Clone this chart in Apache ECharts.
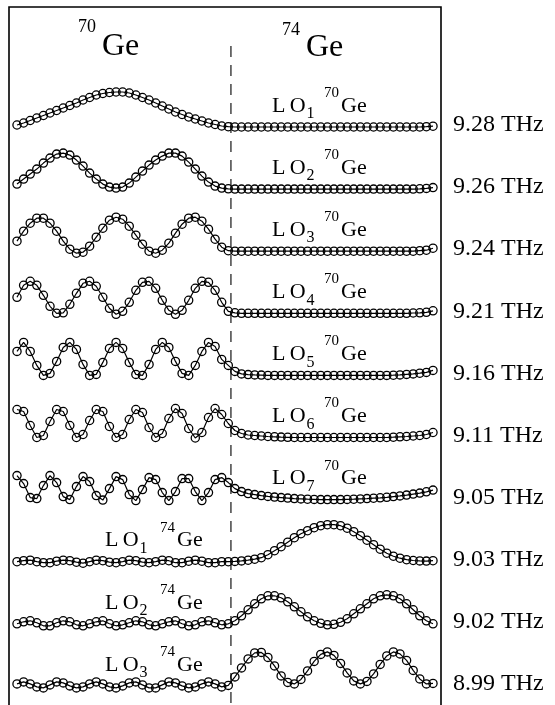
<!DOCTYPE html>
<html><head><meta charset="utf-8">
<script src="https://cdn.jsdelivr.net/npm/echarts@6/dist/echarts.min.js"></script>
<style>html,body{margin:0;padding:0;background:#fff}#c{width:555px;height:705px}</style>
</head><body><div id="c"></div>
<script>
// Atomic displacement (px-like units, up = positive) for 64 atomic planes: 32 of 70Ge then 32 of 74Ge
const lo1_70Ge = [2,4,6.5,9,11.5,14,16.5,19,21.5,24,27,29.5,32,33.5,34.5,35,35,34,32,29.5,27,24,21,18,15,12.5,10,8,6,4,2.5,1,
  0.3,0,0,0,0,0,0,0,0,0,0,0,0,0,0,0,0,0,0,0,0,0,0,0,0,0,0,0,0,0,0.3,0.8];
const lo2_70Ge = [5,10,15,20,26,31,35,36,34,29,23,16,10,5,2,1,2,6,12,18,24,29,33,36,36,33,27,20,13,7,3,1,
  0.3,0,0,0,0,0,0,0,0,0,0,0,0,0,0,0,0,0,0,0,0,0,0,0,0,0,0,0,0,0.3,0.7,1.5];
const lo3_70Ge = [10,20,28,33,33,28,20,10,2,-2,-1,5,14,23,31,34,32,25,16,7,0,-2,1,8,18,27,33,34,30,22,12,4,
  0.5,0,0,0,0,0,0,0,0,0,0,0,0,0,0,0,0,0,0,0,0,0,0,0,0,0,0,0,0,0.5,1,3];
const lo4_70Ge = [16,28,32,28,18,7,0,0.5,9,20,30,32,27,16,5,-1,2,11,23,31,32,25,13,3,-1,3,13,25,32,31,23,11,
  2,0.5,0,0,0,0,0,0,0,0,0,0,0,0,0,0,0,0,0,0,0,0,0,0,0,0,0,0,0.3,0.5,1,2.5];
const lo5_70Ge = [24,33,24,10,0,2,14,28,33,26,11,0,1,13,27,33,27,13,1,0,11,26,33,28,14,2,0,10,24,33,29,16,
  10,4,1.5,0.8,0.5,0.3,0,0,0,0,0,0,0,0,0,0,0,0,0,0,0,0,0,0,0,0.2,0.5,1,1.5,2.2,3,5];
const lo6_70Ge = [28,26,12,0,2,16,28,26,12,0,3,17,28,26,11,0,3,18,28,25,10,0,4,19,29,24,9,-0.5,5,20,29,23,
  14,7,4,2.5,2,1.5,1,0.7,0.4,0.2,0,0,0,0,0,0,0,0,0,0,0,0,0,0,0,0.3,0.7,1,1.5,2,3,5];
const lo7_70Ge = [24,16,2,1,14,24,17,3,0,13,23,18,4,-0.5,11,23,20,5,-1,10,22,20,7,-1,8,21,21,8,-1,7,20,22,
  17,11,8,6,5,4,3.2,2.5,2,1.5,1,0.7,0.4,0.2,0,0,0,0,0.2,0.4,0.7,1,1.4,1.8,2.3,3,3.7,4.5,5.5,6.5,7.8,9.5];
const lo1_74Ge = [0,1,1.5,0,-1,-1,0.5,1.5,1,-0.5,-1.5,0,1.5,1,-0.5,-1,0,1.5,1,-0.5,-1,0,1.5,1,-1,-1,0.5,1.5,0.5,-1,-1,0,
  0,0.3,0.8,1.5,2.5,4,7,11,15,19.5,24,28,31,34,36,37,37,36,33.5,30,26,21.5,17,12.5,8.5,5.5,3.5,2,1.2,0.8,0.6,1];
const lo2_74Ge = [0,2,3,1,-2,-2,1,3,2,-1,-2,0,2,3,0,-2,-1,1,3,2,-1,-2,0,2,3,0,-2,-1,2,3,1,-1,
  0,3,8,14,20,25,28,28,26,22,17,12,7,3,0.5,-1,-0.5,1.5,5,10,15,20,25,28,29,28,25,20,14,8,3,0];
const lo3_74Ge = [2,4,2,-1,-2,1,4,3,0,-2,-1,2,4,2,-1,-2,0,3,4,1,-2,-2,1,4,3,0,-2,-1,2,4,2,-1,
  0.5,9,18,27,33,33.5,28.5,20,10,3.5,2,6.5,15,24.5,31.5,34,30.5,22.5,13,5,2,4.5,12,21.5,30,34,32,25.5,15.5,7,2,2.5];

const rows = [lo1_70Ge, lo2_70Ge, lo3_70Ge, lo4_70Ge, lo5_70Ge, lo6_70Ge, lo7_70Ge, lo1_74Ge, lo2_74Ge, lo3_74Ge];
const frequencies = ['9.28 THz','9.26 THz','9.24 THz','9.21 THz','9.16 THz','9.11 THz','9.05 THz','9.03 THz','9.02 THz','8.99 THz'];
const modeOrders = ['1','2','3','4','5','6','7','1','2','3'];
const modeMass = ['70','70','70','70','70','70','70','74','74','74'];
const layerMass = ['70','74'];
const interfaceIndex = 32.4;

const FONT = '"Liberation Serif","Times New Roman",serif';
const chart = echarts.init(document.getElementById('c'), null, {renderer:'canvas'});
const ROW0 = 127, ROWSTEP = 62.1;
const grids = [], xAxes = [], yAxes = [], series = [];
rows.forEach((vals, r) => {
  const base = ROW0 + ROWSTEP * r;
  grids.push({left: 17, right: 122, top: base - 40, height: 50});
  xAxes.push({type: 'value', gridIndex: r, min: 0, max: 63, show: false});
  yAxes.push({type: 'value', gridIndex: r, min: -10, max: 40, show: false});
  series.push({
    type: 'line', xAxisIndex: r, yAxisIndex: r,
    data: vals.map((v, j) => [j, v]),
    symbol: 'circle', symbolSize: 8.2, showSymbol: true, showAllSymbol: true,
    clip: false, animation: false, silent: true,
    lineStyle: {color: '#000', width: 1.2},
    itemStyle: {color: 'rgba(255,255,255,0)', borderColor: '#000', borderWidth: 1.3}
  });
});
chart.setOption({backgroundColor: '#fff', animation: false, grid: grids, xAxis: xAxes, yAxis: yAxes, series: series});

function txt(s, x, y, size) {
  return {type: 'text', x: x, y: y, silent: true, z: 10,
    style: {text: s, font: size + 'px ' + FONT, fill: '#000', align: 'left', verticalAlign: 'middle'}};
}
const g = [];
g.push({type: 'rect', shape: {x: 9, y: 7, width: 432, height: 730}, style: {fill: 'none', stroke: '#000', lineWidth: 1.6}, silent: true});
const dx = chart.convertToPixel({xAxisIndex: 0}, interfaceIndex);
g.push({type: 'line', shape: {x1: dx, y1: 46, x2: dx, y2: 705}, style: {stroke: '#000', lineWidth: 1.1, lineDash: [11, 8]}, silent: true});
// layer headers
g.push(txt(layerMass[0], 78, 27, 18), txt('Ge', 102, 46.5, 32));
g.push(txt(layerMass[1], 282, 30, 18), txt('Ge', 306, 48, 32));
rows.forEach((vals, r) => {
  const base = ROW0 + ROWSTEP * r;
  const sx = r < 7 ? 0 : -167;
  const gx = r < 7 ? 0 : 3;
  g.push(txt('L\u2009O', 272 + sx, base - 21, 22));
  g.push(txt(modeOrders[r], 306.5 + sx, base - 13, 16));
  g.push(txt(modeMass[r], 324 + sx + gx, base - 34, 15));
  g.push(txt('Ge', 341 + sx + gx, base - 21, 22));
  g.push(txt(frequencies[r], 453, base - 2, 24));
});
chart.setOption({graphic: g});
</script></body></html>
